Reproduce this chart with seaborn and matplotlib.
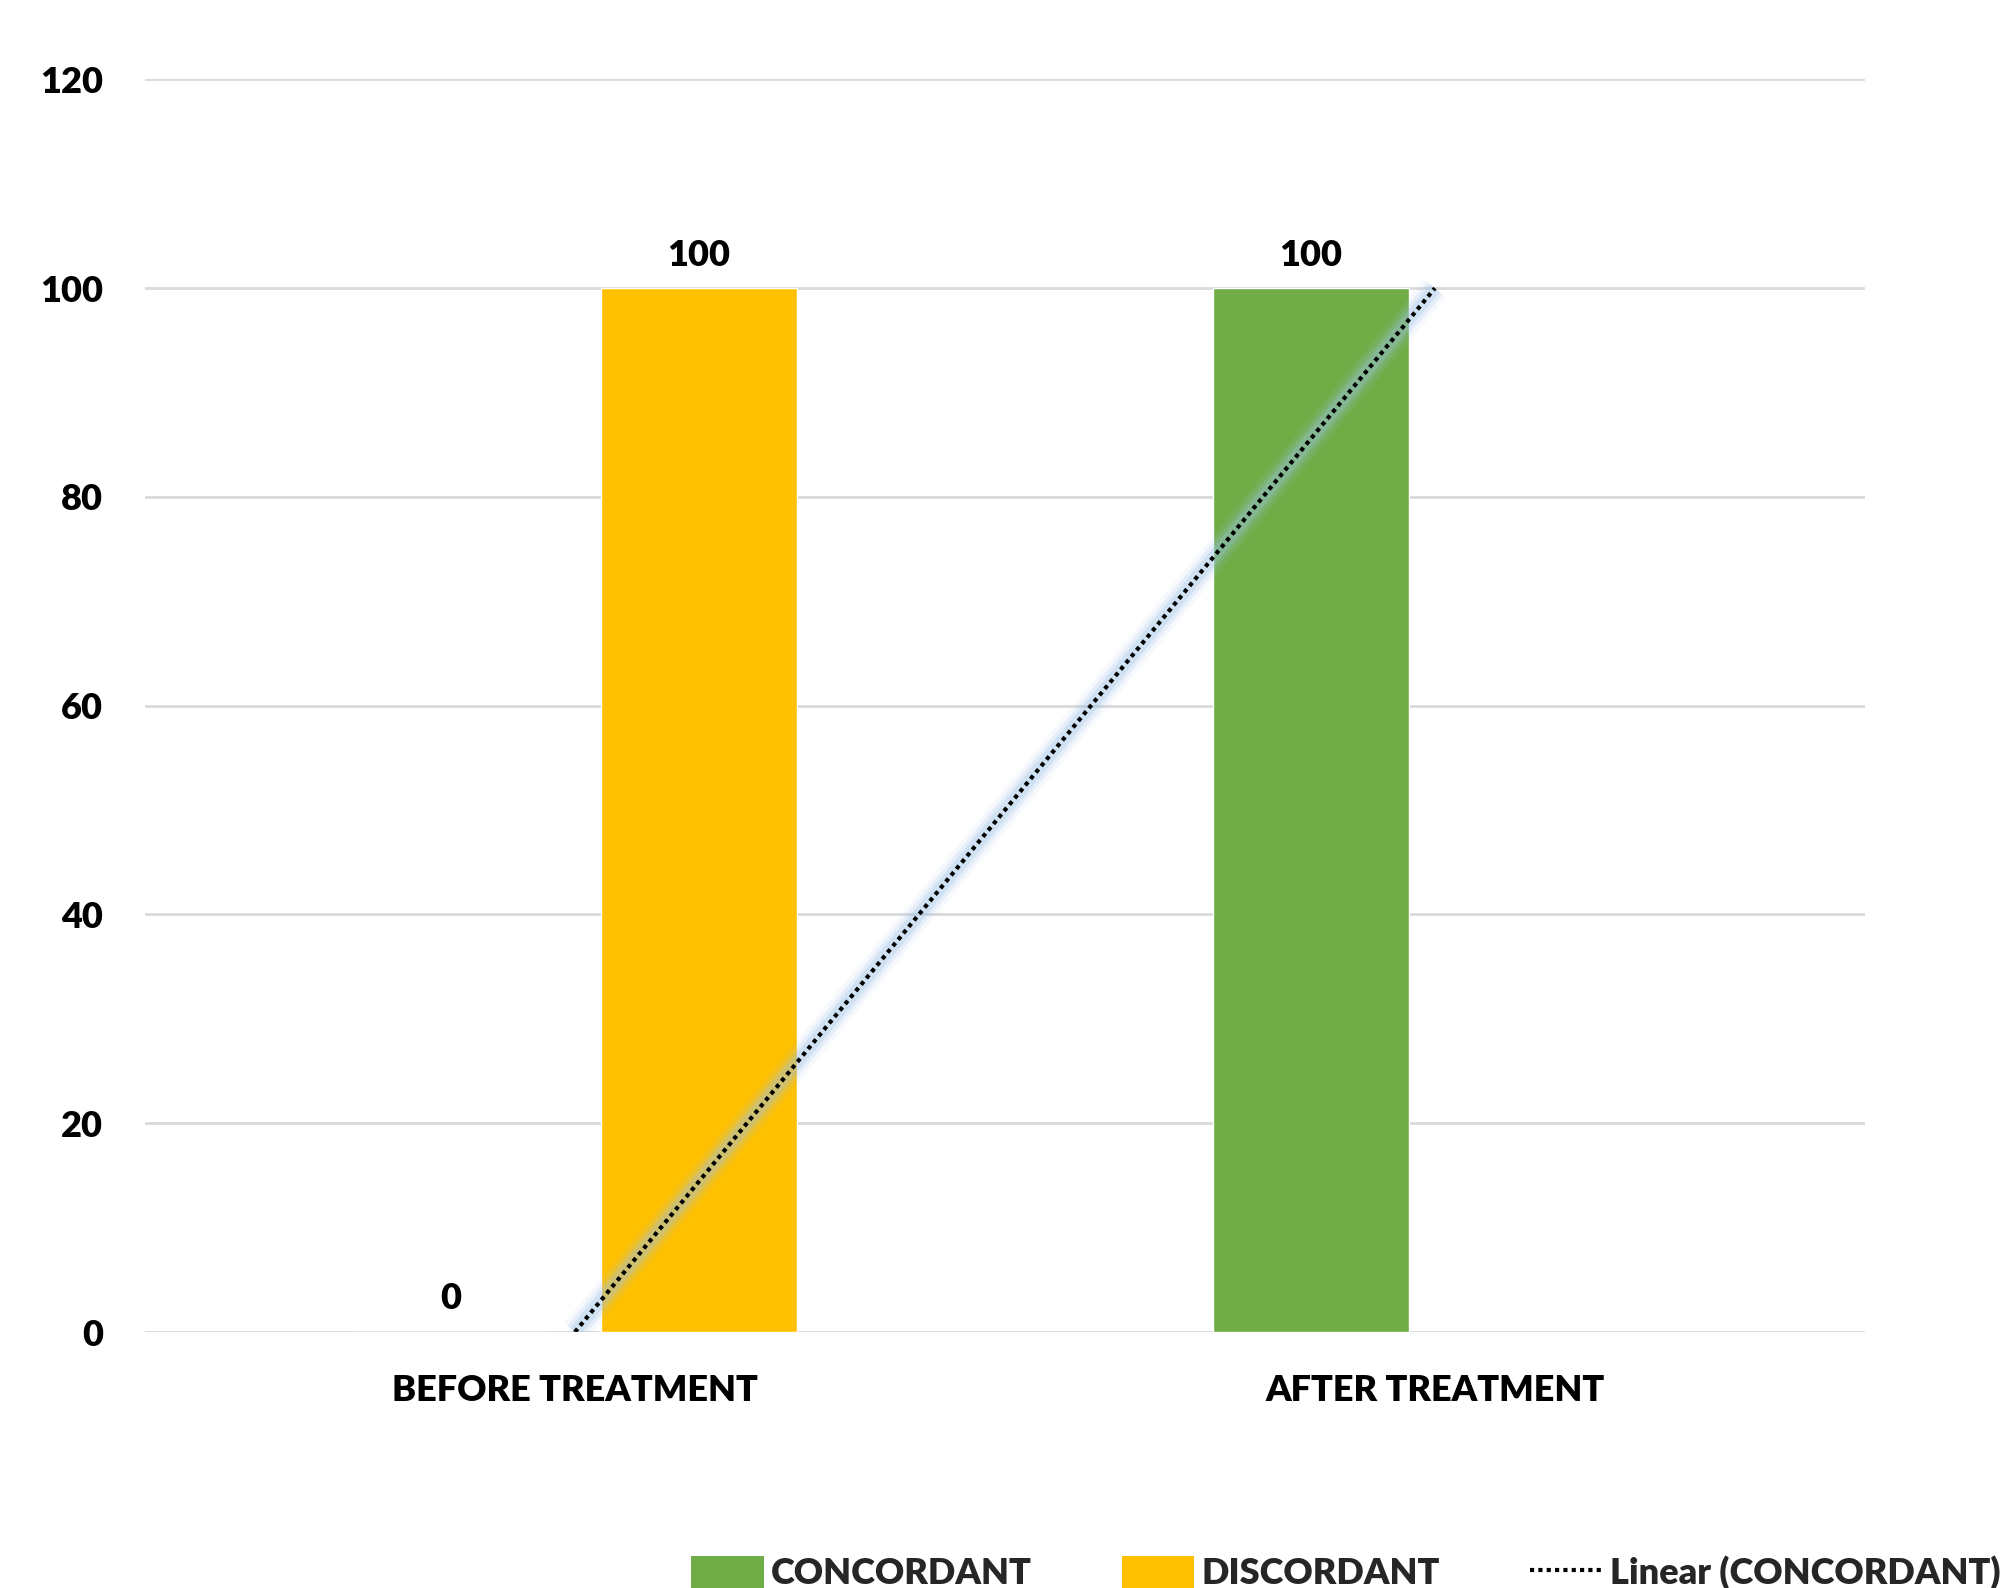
import numpy as np
import pandas as pd
import matplotlib
matplotlib.use("Agg")
import matplotlib.pyplot as plt
from matplotlib.patches import Patch
from matplotlib.lines import Line2D
from matplotlib.font_manager import FontProperties
import seaborn as sns

# Data
stages = ["BEFORE TREATMENT", "AFTER TREATMENT"]
concordant = [0, 100]
discordant = [100, np.nan]
series_names = ["CONCORDANT", "DISCORDANT"]
trend_label = "Linear (CONCORDANT)"
y_ticks = [0, 20, 40, 60, 80, 100, 120]

colors = {"CONCORDANT": "#70ad47", "DISCORDANT": "#ffc000"}

df = pd.DataFrame({
    "stage": stages * 2,
    "series": [series_names[0]] * 2 + [series_names[1]] * 2,
    "value": concordant + discordant,
})
df = df.dropna()

sns.set_theme(style="white")
plt.rcParams["font.family"] = ["Lato", "DejaVu Sans"]
plt.rcParams["font.weight"] = "heavy"

FS = 26
WT = "heavy"
fp = FontProperties(family=["Lato", "DejaVu Sans"], weight=WT, size=FS)

fig = plt.figure(figsize=(20.10, 15.88), dpi=100)
ax = fig.add_axes([0.0721, 0.1612, 0.8557, 0.7888])

sns.barplot(data=df, x="stage", y="value", hue="series", order=stages,
            hue_order=series_names, palette=colors, width=0.576, gap=0.21,
            saturation=1, legend=False, ax=ax, zorder=2)

ax.set_xlim(-0.5, 1.5)
ax.set_ylim(0, 120)
ax.set_yticks(y_ticks)
ax.set_yticklabels([str(t) for t in y_ticks], fontproperties=fp)
ax.set_xticks(range(len(stages)))
ax.set_xticklabels(stages, fontproperties=fp)
ax.tick_params(axis="y", length=0, pad=30, colors="black")
ax.tick_params(axis="x", length=0, pad=30, colors="black")
ax.set_xlabel("")
ax.set_ylabel("")
ax.grid(axis="y", color="#d9d9d9", linewidth=2, zorder=0)
ax.set_axisbelow(True)
for s in ax.spines.values():
    s.set_visible(False)

# Value labels
for cont in ax.containers:
    ax.bar_label(cont, fmt="%g", padding=12, fontproperties=fp, color="black")

# Linear trendline through the concordant series
xs = np.arange(len(stages))
slope, intercept = np.polyfit(xs, concordant, 1)
tx = np.array([xs[0], xs[-1]])
ty = slope * tx + intercept
for lw, a in [(20, 0.10), (14, 0.18), (9, 0.30)]:
    ax.plot(tx, ty, color="#9dc3e6", linewidth=lw, alpha=a,
            solid_capstyle="butt", zorder=3)
ax.plot(tx, ty, color="black", linewidth=3, linestyle=(0, (1, 1)), zorder=4)

# Legend
handles = [Patch(facecolor=colors[n], edgecolor="none") for n in series_names]
handles.append(Line2D([0], [0], color="black", linewidth=3, linestyle=(0, (1, 1))))
labels = series_names + [trend_label]
fig.legend(handles, labels, loc="center left", bbox_to_anchor=(0.344, 0.0095),
           ncol=3, frameon=False, prop=fp,
           handlelength=2.0, handleheight=1.0, handletextpad=0.2,
           columnspacing=2.5, borderaxespad=0, borderpad=0)

fig.savefig("out.png", dpi=100, facecolor="white")
